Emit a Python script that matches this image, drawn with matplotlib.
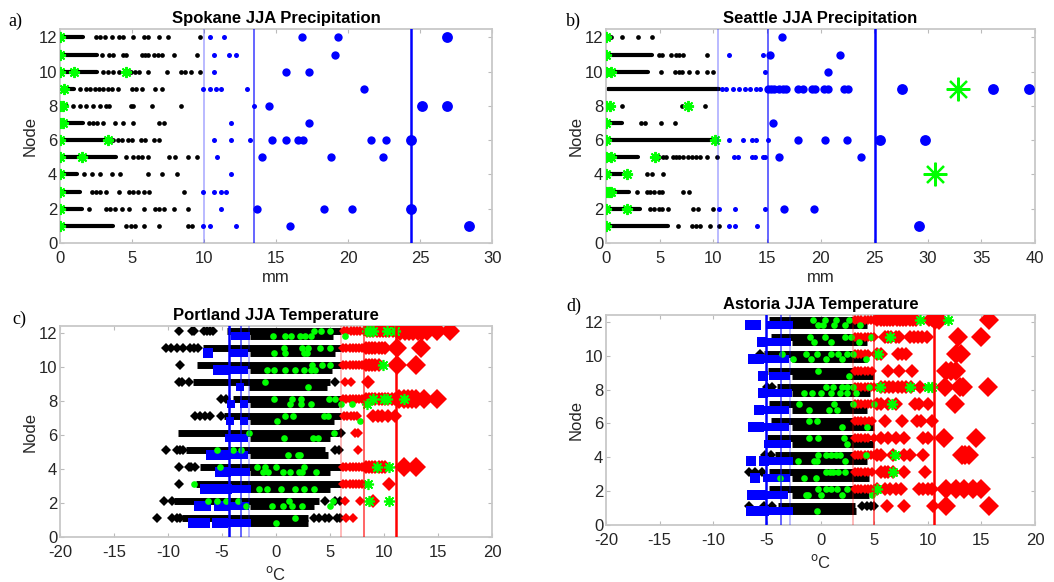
import matplotlib
matplotlib.use("Agg")
import matplotlib.pyplot as plt

plt.rcParams['font.family'] = ['Liberation Sans', 'DejaVu Sans']
plt.rcParams['axes.unicode_minus'] = False

# ---------------------------------------------------------------------------
# a) Spokane JJA precipitation (mm) per node
# ---------------------------------------------------------------------------
SPOK_RUN = {12: (0.1, 1.6), 11: (0.1, 2.6), 10: (0.1, 2.6), 9: (0.4, 1.0), 8: (0.0, 0.5),
            7: (0.2, 1.6), 6: (0.1, 3.2), 5: (0.1, 3.9), 4: (0.1, 1.2), 3: (0.1, 1.4),
            2: (0.1, 1.5), 1: (0.1, 3.7)}
SPOK_BLACK = {12: [2.5, 2.8, 3.1, 3.6, 4.1, 4.4, 5.1, 5.8, 6.1, 6.9, 7.5, 9.7],
              11: [2.9, 3.4, 3.7, 4.4, 4.6, 5.7, 5.9, 6.1, 6.5, 6.8, 7.1, 7.9, 9.5],
              10: [3.0, 3.3, 3.7, 4.1, 4.9, 5.2, 5.5, 6.1, 7.4, 8.4, 8.7, 9.1, 9.7],
              9: [1.4, 1.8, 2.1, 2.4, 2.7, 3.0, 3.3, 3.6, 4.0, 5.0, 5.3, 5.7, 6.6, 7.1],
              8: [0.9, 1.4, 1.8, 2.3, 2.8, 3.2, 3.4, 4.9, 5.1, 6.4, 8.4],
              7: [2.0, 2.3, 2.6, 3.0, 3.8, 4.4, 5.1, 6.9, 7.2],
              6: [3.7, 4.0, 4.3, 4.7, 5.0, 5.6, 5.9, 6.5, 6.9],
              5: [4.6, 5.1, 5.4, 5.7, 6.1, 7.6, 8.0, 8.9, 9.5],
              4: [1.7, 2.2, 2.8, 3.6, 4.2, 6.1, 7.1, 8.1],
              3: [2.2, 2.5, 2.8, 3.2, 4.1, 4.8, 5.1, 5.4, 5.8, 6.2, 8.6],
              2: [2.0, 3.2, 3.5, 3.8, 4.3, 4.8, 5.8, 6.6, 6.9, 7.2, 7.9, 8.9],
              1: [4.6, 4.9, 5.2, 5.8, 6.9, 8.9, 9.2]}
SPOK_BLUE_S = {12: [10.4, 11.4], 11: [10.7, 11.7, 12.2], 10: [10.7], 9: [9.9, 10.4, 10.8, 11.2, 13.0],
               8: [13.5], 7: [11.9], 6: [10.7, 11.9, 13.2], 5: [10.9], 4: [11.9],
               3: [9.9, 10.7, 11.2, 11.5], 2: [11.2], 1: [9.9, 10.4, 12.2]}
SPOK_BLUE_M = {12: [16.8, 19.3], 11: [19.1], 10: [15.7, 17.3], 9: [21.1], 8: [14.5], 7: [17.3],
               6: [14.7, 15.7, 16.5, 16.9, 21.6, 22.6], 5: [14.0, 18.8, 22.4], 2: [13.7, 18.3, 20.3],
               1: [16.0]}
SPOK_BLUE_L = {12: [26.9], 8: [25.1, 26.9], 6: [24.4], 2: [24.4], 1: [28.4]}
SPOK_GREEN = {12: [0.0], 11: [0.0], 10: [0.0, 1.0, 4.6], 9: [0.3], 8: [0.0, 0.2], 7: [0.0, 0.2],
              6: [0.0, 3.3], 5: [0.0, 1.5], 4: [0.0], 3: [0.0], 2: [0.0], 1: [0.0]}
SPOK_GREEN_BIG = {}
SPOK_LINES = [10.0, 13.5, 24.4]

# ---------------------------------------------------------------------------
# b) Seattle JJA precipitation (mm)
# ---------------------------------------------------------------------------
SEA_RUN = {11: (0.2, 4.3), 10: (0.7, 3.9), 9: (0.2, 10.5), 7: (0.4, 1.5), 6: (0.2, 9.8),
           5: (0.2, 3.0), 4: (0.4, 1.5), 3: (0.7, 2.1), 2: (0.2, 3.2), 1: (0.2, 5.8)}
SEA_BLACK = {12: [0.5, 1.5, 3.0, 4.3],
             11: [4.9, 5.2, 6.1, 6.5, 6.8, 7.2, 9.4],
             10: [5.1, 6.4, 6.8, 7.1, 7.7, 8.5, 9.4, 10.0],
             8: [1.5, 7.1, 9.2],
             7: [3.3, 3.6, 5.1, 6.4],
             5: [4.9, 5.3, 5.6, 6.2, 6.5, 6.8, 7.2, 7.6, 8.0, 8.4, 8.8, 9.4, 10.3],
             4: [3.8, 4.3, 5.3],
             3: [2.9, 3.8, 4.1, 4.5, 4.9, 5.2, 7.2, 7.7],
             2: [4.1, 4.5, 4.9, 5.2, 5.8, 8.1, 8.6, 10.0],
             1: [6.7, 8.0, 8.4, 8.8, 9.7, 10.5]}
SEA_BLUE_S = {11: [11.5, 14.6], 10: [14.8], 9: [10.8, 11.2, 11.8, 12.4, 13.0, 13.4, 14.0, 14.4],
              6: [11.5, 12.8, 13.6, 14.0, 15.1], 5: [11.9, 12.3, 13.6, 13.9, 14.6, 14.8],
              2: [10.5, 12.0, 14.8], 1: [11.5, 12.0, 14.1]}
SEA_BLUE_M = {12: [16.4], 11: [15.3, 21.8], 10: [20.7],
              9: [15.1, 15.4, 15.7, 16.1, 16.5, 16.8, 17.9, 18.4, 19.2, 19.5, 20.3, 20.7, 22.2, 22.6],
              7: [15.6], 6: [17.9, 20.4, 22.5], 5: [16.1, 23.8], 2: [16.6, 19.4]}
SEA_BLUE_L = {9: [27.6, 36.1, 39.4], 6: [25.5, 29.7], 1: [29.2]}
SEA_GREEN = {12: [0.0], 11: [0.0], 10: [0.0, 0.5], 8: [0.0, 0.4, 7.6], 7: [0.0], 6: [0.0, 10.2],
             5: [0.0, 0.5, 4.6], 4: [0.0, 2.0], 3: [0.0, 0.3, 0.5], 2: [0.0, 2.0], 1: [0.0]}
SEA_GREEN_BIG = {9: [32.8], 4: [30.7]}
SEA_LINES = [10.4, 15.1, 25.1]

# ---------------------------------------------------------------------------
# c) Portland JJA temperature (oC); upper row = diamonds, lower row = squares
# ---------------------------------------------------------------------------
PORT_UP_BAND = {12: (-4.5, 6.0), 11: (-6.8, 6.0), 10: (-7.3, 6.0), 9: (-7.7, 5.0), 8: (-4.0, 6.0),
                7: (-4.8, 6.0), 6: (-9.1, 5.8), 5: (-8.3, 4.5), 4: (-7.0, 6.0), 3: (-7.4, 6.0),
                2: (-9.4, 4.0), 1: (-8.7, 3.0)}
PORT_LO_BAND = {12: (-2.4, 5.3), 11: (-2.4, 5.5), 10: (-2.4, 5.2), 9: (-2.5, 4.7), 8: (-2.4, 5.8),
                7: (-2.4, 5.4), 6: (-2.4, 5.0), 5: (-2.4, 4.8), 4: (-2.4, 5.0), 3: (-2.4, 5.0),
                2: (-2.4, 3.5), 1: (-2.4, 3.0)}
PORT_UP_BLACK = {12: [-9.0, -7.8, -7.6, -6.7, -6.4, -6.1, -5.8],
                 11: [-10.2, -9.7, -9.2, -8.6, -8.0, -7.6, -7.2],
                 10: [-8.9], 9: [-9.0, -8.7, -8.1, 5.5], 8: [-5.1, -4.6],
                 7: [-7.5, -7.0, -6.6, -6.1, -5.1], 6: [6.0], 5: [-10.2, -9.2, -8.9, -8.6, 5.5, 5.8],
                 4: [-9.0, -8.1, -7.9, -7.5], 3: [-9.0], 2: [-10.4, -9.6, 4.5, 5.5, 5.9],
                 1: [-11.0, -9.6, -9.2, -8.9, 3.5, 4.0, 4.5, 4.9, 5.6, 5.9]}
PORT_BLUE = {12: [-3.8, -3.3, -2.8], 11: [-6.3, -4.0, -3.5, -3.0], 10: [-5.4, -4.8, -4.2, -3.6, -3.0],
             9: [-3.3], 8: [-4.2, -3.0], 7: [-4.3, -3.0], 6: [-4.4, -3.6, -3.0],
             5: [-6.0, -5.4, -4.8, -4.2, -3.6, -3.0], 4: [-5.2, -4.6, -4.0, -3.4, -2.8],
             3: [-6.6, -5.7, -5.1, -4.5, -3.9, -3.3, -2.7], 2: [-7.1, -6.5, -5.3, -4.7, -4.1, -3.5, -2.9],
             1: [-7.7, -7.1, -6.6, -5.5, -4.9, -4.3, -3.7, -3.1, -2.7]}
PORT_RED = {12: [6.3, 6.6, 6.9, 7.2, 7.5, 7.8, 8.1, 8.4, 8.7, 9.0, 9.3, 9.6, 9.9, 10.2, 10.5, 10.8,
                 11.1, 11.5, 11.9, 12.3, 12.7, 13.1, 13.5, 14.0, 14.9, 16.1],
            11: [6.2, 6.5, 6.8, 7.1, 7.4, 7.7, 8.0, 8.3, 8.6, 8.9, 9.2, 9.5, 9.8, 10.1, 11.2, 13.4],
            10: [6.2, 6.5, 6.8, 7.1, 7.4, 7.7, 8.0, 8.3, 8.6, 8.9, 9.2, 9.5, 11.2, 13.0],
            9: [6.4, 6.9, 8.5],
            8: [6.2, 6.5, 6.8, 7.1, 7.4, 7.7, 8.0, 8.3, 8.6, 8.9, 9.2, 9.5, 9.8, 10.1, 10.4, 10.7,
                11.0, 11.4, 11.8, 12.2, 12.6, 13.0, 13.7, 14.9],
            7: [6.3, 6.6, 6.9, 7.2, 7.5, 9.0, 9.4, 9.8, 10.4, 11.0],
            6: [7.3, 7.6], 5: [7.6],
            4: [6.2, 6.5, 6.8, 7.1, 7.4, 7.7, 8.0, 8.3, 8.6, 8.9, 9.2, 9.5, 9.8, 10.1, 11.8, 13.0],
            3: [6.2, 6.5, 6.8, 7.1, 7.4, 7.7, 8.0, 10.5], 2: [6.4, 7.8, 9.0], 1: [6.5, 7.1]}
PORT_GREEN_UP = {12: [3.5, 4.2, 5.0, 8.4, 8.7, 9.0, 10.3, 11.0], 11: [0.7, 2.4, 3.0, 4.1, 5.0],
                 10: [3.3, 4.3, 5.0, 9.9], 9: [-1.0], 8: [-0.2, 1.5, 2.3, 4.9, 5.5, 9.0, 10.0, 10.3, 11.8],
                 7: [0.8, 1.6, 4.4, 4.8], 6: [-2.5, 5.4], 5: [-5.5, -4.0, -3.2],
                 4: [-5.2, -1.8, -1.0, 0.0, 2.6, 9.3, 10.5], 3: [-7.6, 8.5],
                 2: [-6.3, -5.5, -4.6, -3.5, 1.2, 5.3, 8.6, 10.5], 1: [1.8]}
PORT_GREEN_LO = {12: [-0.3, 0.8, 1.4, 2.2, 2.7, 3.2, 6.4], 11: [-0.2, 0.8, 2.6, 2.9],
                 10: [-0.8, -0.2, 0.8, 1.8, 2.6, 3.2, 3.6], 9: [3.0], 8: [1.3, 2.3, 3.2, 6.0, 7.0, 8.4],
                 7: [0.1, 7.8], 6: [0.7, 3.4, 3.9], 5: [1.1, 2.0, 2.2],
                 4: [-1.2, -0.7, 0.6, 1.3, 2.1, 2.4, 3.7], 3: [-1.6, -0.8, 0.5, 1.8, 2.6, 3.5],
                 2: [-2.8, -0.4, 0.6, 1.5, 2.4, 5.0], 1: [0.0]}
PORT_BLUE_LINES = [-2.5, -3.2, -4.4]   # light -> dark
PORT_RED_LINES = [6.0, 8.1, 11.1]

# ---------------------------------------------------------------------------
# d) Astoria JJA temperature (oC)
# ---------------------------------------------------------------------------
AST_UP_BAND = {12: (-4.8, 3.2), 11: (-4.6, 3.2), 10: (-5.3, 3.2), 9: (-4.9, 3.2), 8: (-4.1, 3.2),
               7: (-4.8, 3.2), 6: (-4.6, 3.2), 5: (-5.0, 3.2), 4: (-4.2, 3.2), 3: (-4.8, 3.2),
               2: (-4.8, 3.2), 1: (-4.0, 3.2)}
AST_LO_BAND = {12: (-2.7, 4.3), 11: (-2.7, 4.3), 10: (-2.7, 4.3), 9: (-2.7, 5.0), 8: (-2.7, 4.6),
               7: (-2.7, 4.3), 6: (-2.7, 5.0), 5: (-2.7, 5.0), 4: (-2.7, 4.3), 3: (-2.7, 4.5),
               2: (-2.7, 4.5), 1: (-2.7, 3.3)}
AST_UP_BLACK = {10: [-5.6], 8: [-5.0, -4.5], 4: [-5.2, -4.6], 3: [-6.7, -6.1, -5.5],
                1: [-6.7, -5.3, -4.5, 3.9, 4.3, 4.7, 5.0]}
AST_BLUE = {12: [-6.6, -6.0, -4.6, -4.0, -3.4, -2.9], 11: [-5.5, -4.9, -4.3, -3.7, -3.1],
            10: [-6.3, -5.7, -5.1, -4.5, -3.9, -3.3], 9: [-5.4, -4.4, -3.8, -3.2],
            8: [-5.4, -4.8, -4.2, -3.6, -3.0], 7: [-5.7, -5.1, -4.5, -3.9, -3.3],
            6: [-6.3, -5.7, -5.1, -4.5, -3.9, -3.3], 5: [-4.9, -4.3, -3.7, -3.1],
            4: [-6.5, -5.3, -4.7, -4.1, -3.5, -2.9], 3: [-6.1, -5.0, -4.4, -3.8, -3.2],
            2: [-6.4, -5.5, -4.6, -4.0, -3.4], 1: [-6.5, -5.9, -5.3, -4.7, -4.1, -3.5, -2.9]}
AST_RED = {12: [3.2, 3.5, 3.8, 4.1, 4.4, 4.7, 5.0, 5.3, 5.6, 5.9, 6.2, 6.5, 6.8, 7.1, 7.4, 7.7, 8.0,
                8.3, 8.6, 8.9, 10.1, 10.4, 10.7, 11.0, 15.7],
           11: [3.2, 3.5, 3.8, 4.1, 4.4, 4.7, 5.0, 6.0, 6.3, 6.6, 7.0, 7.3, 8.3, 8.7, 9.1, 9.5, 9.9,
                12.8, 15.0],
           10: [3.2, 3.5, 3.8, 4.1, 4.4, 5.3, 5.6, 7.2, 7.6, 8.0, 12.6, 13.1],
           9: [3.2, 3.5, 3.8, 4.1, 4.4, 4.8, 6.3, 7.3, 8.5, 11.7, 12.2, 12.6],
           8: [3.2, 3.5, 3.8, 4.1, 4.4, 4.7, 5.0, 5.6, 6.0, 6.4, 6.8, 7.2, 7.6, 8.0, 8.4, 9.3, 11.6,
               13.0, 13.3, 15.6],
           7: [3.2, 3.5, 3.8, 4.1, 4.4, 4.7, 5.3, 5.6, 6.3, 7.0, 8.8, 9.2, 10.0, 12.5],
           6: [3.2, 3.5, 3.8, 4.1, 4.5, 4.8, 6.0, 7.6, 9.0, 9.4, 10.4],
           5: [3.2, 3.5, 3.8, 4.1, 4.4, 5.0, 5.6, 6.3, 7.0, 7.8, 9.6, 10.0, 11.5, 14.5],
           4: [3.2, 3.5, 3.8, 4.1, 4.4, 4.7, 5.0, 5.3, 5.6, 6.8, 7.8, 8.3, 9.6, 13.2, 13.5, 13.8],
           3: [3.2, 3.5, 3.8, 4.1, 4.4, 4.8, 5.6, 6.0, 6.3, 6.8, 7.8, 9.7],
           2: [3.2, 3.5, 3.8, 4.1, 4.4, 4.7, 5.0, 5.3, 6.0, 6.5, 7.0, 7.5, 9.2, 9.6, 10.0, 10.4,
               11.7, 12.6, 13.4, 14.2, 15.0],
           1: [6.2, 7.8, 10.5, 11.7, 15.7]}
AST_GREEN_UP = {12: [-0.7, 0.4, 1.4, 2.7, 9.3, 11.9], 11: [-1.0, 0.4, 2.3, 2.8, 4.7, 6.5],
                10: [-3.6, -1.4, -0.3, 1.0, 1.6, 2.5, 3.0, 5.4], 9: [-0.2],
                8: [0.5, 1.2, 2.0, 2.5, 3.0, 4.5, 5.5, 8.3, 10.0, 10.4], 7: [-2.0, 1.3, 3.0, 5.0, 6.7],
                6: [-1.1, -0.3], 5: [-1.1, -0.2, 2.2], 4: [-0.2, 0.5, 1.0, 1.4, 1.8, 4.2, 6.9],
                3: [0.5, 0.9, 1.2, 1.6, 2.3, 6.8], 2: [-0.2, 0.5, 1.0, 1.5, 2.5, 5.3]}
AST_GREEN_LO = {12: [-0.2, 0.2, 1.3, 2.3, 3.7], 11: [-0.6, 1.0, 3.6], 10: [-2.6, -0.9, 0.5, 2.0, 4.2],
                9: [2.7], 8: [-1.5, -0.8, 0.0, 1.0, 1.8, 2.5, 3.3], 7: [-1.1, 0.8, 1.5], 6: [2.0, 4.3],
                5: [2.5], 4: [-2.1, -0.6, -0.3, 2.3], 3: [-3.8, -1.5, -0.4],
                2: [-1.4, -1.2, 0.0, 2.0, 4.8], 1: [-0.3]}
AST_BLUE_LINES = [-2.85, -3.7, -5.1]
AST_RED_LINES = [3.05, 5.0, 10.55]

GREEN = '#00ff00'
BLUE = '#0000ff'
RED = '#ff0000'
ASTER = (8, 2, 0)
LINE_ALPHA = [0.35, 0.65, 1.0]
LINE_LW = [1.1, 1.3, 1.8]


def style_axes(ax, xlim, xticks, ylim, xlabel):
    ax.set_xlim(*xlim); ax.set_ylim(*ylim)
    ax.set_xticks(xticks); ax.set_yticks(range(0, 13, 2))
    ax.tick_params(direction='in', top=True, right=True, length=3, width=0.8,
                   color='#bbbbbb', labelsize=12, labelcolor='#262626')
    ax.tick_params(axis='x', pad=6)
    ax.tick_params(axis='y', pad=2)
    for s in ax.spines.values():
        s.set_color('#c8c8c8'); s.set_linewidth(1.3)
    ax.set_ylabel('Node', fontsize=12, color='#262626', labelpad=1)
    ax.set_xlabel(xlabel, fontsize=12, color='#262626', labelpad=3)


def draw_precip(ax, run, black, bs, bm, bl, green, gbig, lines):
    for n, (a, b) in run.items():
        ax.plot([a, b], [n, n], color='k', lw=3.0, solid_capstyle='round', zorder=2)
    for n, v in black.items():
        ax.plot(v, [n] * len(v), 'o', color='k', ms=3.4, mew=0, zorder=2)
    for d, ms in ((bs, 3.6), (bm, 6.0), (bl, 7.8)):
        for n, v in d.items():
            ax.plot(v, [n] * len(v), 'o', color=BLUE, ms=ms, mew=0, zorder=3)
    for n, v in green.items():
        ax.plot(v, [n] * len(v), marker=ASTER, ls='none', color=GREEN, ms=8, mew=1.4, zorder=4)
    for n, v in gbig.items():
        ax.plot(v, [n] * len(v), marker=ASTER, ls='none', color=GREEN, ms=17, mew=1.6, zorder=4)
    for x, al, lw in zip(lines, LINE_ALPHA, LINE_LW):
        ax.axvline(x, color=BLUE, alpha=al, lw=lw, zorder=5)


def draw_temp(ax, upband, loband, upblack, blue, red, gup, glo, blines, rlines):
    UP, LO = 0.12, -0.2
    for n, (a, b) in upband.items():
        ax.plot([a, b], [n + UP] * 2, color='k', lw=5.0, solid_capstyle='butt', zorder=2)
    for n, (a, b) in loband.items():
        ax.plot([a, b], [n + LO] * 2, color='k', lw=5.0, solid_capstyle='butt', zorder=2)
    for n, v in upblack.items():
        ax.plot(v, [n + UP] * len(v), 'D', color='k', ms=4.6, mew=0, zorder=2)
    for n, v in blue.items():
        for x in v:
            ms = 7.5 if x < blines[2] else 6.2 if x < blines[1] else 5.4
            ax.plot(x, n + LO, 's', color=BLUE, ms=ms, mew=0, zorder=3)
    for n, v in red.items():
        for x in v:
            ms = 10.5 if x > rlines[2] else 6.8 if x > rlines[1] else 5.2
            ax.plot(x, n + UP, 'D', color=RED, ms=ms, mew=0, zorder=3)
    for d, off in ((gup, UP), (glo, LO)):
        for n, v in d.items():
            ax.plot(v, [n + off] * len(v), 'o', color=GREEN, ms=4.8, mew=0, zorder=4)
            far = [x for x in v if x > rlines[1]]
            ax.plot(far, [n + off] * len(far), marker=ASTER, ls='none', color=GREEN,
                    ms=8, mew=1.2, zorder=4)
    for x, al, lw in zip(blines, LINE_ALPHA, LINE_LW):
        ax.axvline(x, color=BLUE, alpha=al, lw=lw, zorder=5)
    for x, al, lw in zip(rlines, LINE_ALPHA, LINE_LW):
        ax.axvline(x, color=RED, alpha=al, lw=lw, zorder=5)


fig = plt.figure(figsize=(10.54, 5.82), dpi=100)
axa = fig.add_axes([0.0569, 0.5825, 0.410, 0.368])
axb = fig.add_axes([0.575, 0.5825, 0.407, 0.368])
axc = fig.add_axes([0.0569, 0.0773, 0.410, 0.3625])
axd = fig.add_axes([0.575, 0.0979, 0.407, 0.3609])

draw_precip(axa, SPOK_RUN, SPOK_BLACK, SPOK_BLUE_S, SPOK_BLUE_M, SPOK_BLUE_L,
            SPOK_GREEN, SPOK_GREEN_BIG, SPOK_LINES)
style_axes(axa, (0, 30), range(0, 31, 5), (0, 12.5), 'mm')
axa.set_title('Spokane JJA Precipitation', fontsize=12, fontweight='bold', pad=4)

draw_precip(axb, SEA_RUN, SEA_BLACK, SEA_BLUE_S, SEA_BLUE_M, SEA_BLUE_L,
            SEA_GREEN, SEA_GREEN_BIG, SEA_LINES)
style_axes(axb, (0, 40), range(0, 41, 5), (0, 12.5), 'mm')
axb.set_title('Seattle JJA Precipitation', fontsize=12, fontweight='bold', pad=4)

draw_temp(axc, PORT_UP_BAND, PORT_LO_BAND, PORT_UP_BLACK, PORT_BLUE, PORT_RED,
          PORT_GREEN_UP, PORT_GREEN_LO, PORT_BLUE_LINES, PORT_RED_LINES)
style_axes(axc, (-20, 20), range(-20, 21, 5), (0, 12.4), r'$^{\rm o}$C')
axc.set_title('Portland JJA Temperature', fontsize=12, fontweight='bold', pad=4)

draw_temp(axd, AST_UP_BAND, AST_LO_BAND, AST_UP_BLACK, AST_BLUE, AST_RED,
          AST_GREEN_UP, AST_GREEN_LO, AST_BLUE_LINES, AST_RED_LINES)
style_axes(axd, (-20, 20), range(-20, 21, 5), (0, 12.4), r'$^{\rm o}$C')
axd.set_title('Astoria JJA Temperature', fontsize=12, fontweight='bold', pad=4)

for lbl, x, y in (('a)', 0.008, 0.963), ('b)', 0.537, 0.963), ('c)', 0.012, 0.452), ('d)', 0.537, 0.473)):
    fig.text(x, y, lbl, family='Liberation Serif', fontsize=13, va='center', ha='left')

fig.savefig('out.png', dpi=100)
